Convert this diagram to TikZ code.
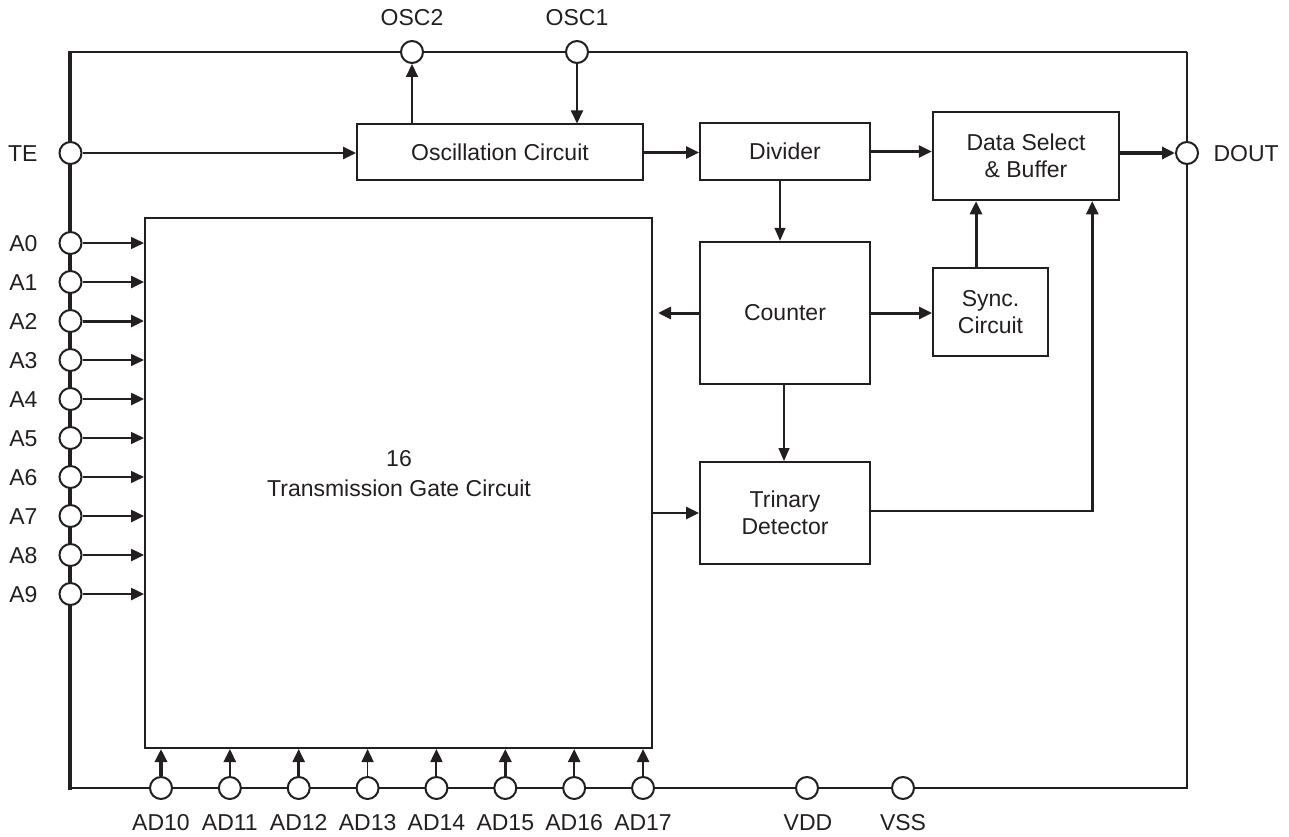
\documentclass[tikz,border=0pt]{standalone}
\usepackage{fontspec}
\setmainfont{Liberation Sans}
\usetikzlibrary{arrows.meta,calc}
\definecolor{ink}{RGB}{35,31,32}
\begin{document}
\begin{tikzpicture}[x=1pt,y=-1pt,
  every node/.style={font=\fontsize{23}{26.5}\selectfont, text=ink},
  blk/.style={draw=ink, line width=2pt, inner sep=0pt, align=center},
  pinc/.style={circle, draw=ink, fill=white, line width=2pt, minimum size=22pt, inner sep=0pt},
  arr/.style={draw=ink, -{Triangle[length=13pt,width=12pt]}, line width=2.5pt},
  tarr/.style={draw=ink, -{Triangle[length=13pt,width=11pt]}, line width=1.6pt},
]
\useasboundingbox (0,0) rectangle (1289,837);

% frame
\draw[ink, line width=2pt] (70,52) -- (1187,52);
\draw[ink, line width=1.6pt] (1187,52) -- (1187,788) -- (70,788);
\draw[ink, line width=4pt] (70,51) -- (70,789.5);

% blocks
\node[blk, minimum width=286pt, minimum height=56pt] (osc) at (500,152.5) {Oscillation Circuit};
\node[blk, minimum width=170pt, minimum height=57pt] (div) at (785,151.5) {Divider};
\node[blk, line width=2.5pt, minimum width=186pt, minimum height=88pt] (dsb) at (1026,156) {Data Select\\\& Buffer};
\node[blk, line width=2.5pt, minimum width=170pt, minimum height=142pt] (counter) at (785,313) {Counter};
\node[blk, minimum width=115pt, minimum height=88pt] (sync) at (990.5,312) {Sync.\\Circuit};
\node[blk, minimum width=170pt, minimum height=102pt] (trin) at (785,513) {Trinary\\Detector};
\node[blk, minimum width=507pt, minimum height=530pt] (tgc) at (398.5,483) {};
\node[align=center, font=\fontsize{23}{30}\selectfont] (tgctext) at (399,474) {16\\Transmission Gate Circuit};

% pins
\node[pinc] (te) at (70.5,153) {};
\node[anchor=base east] (lte) at (41,161) {TE};
\node[pinc] (osctwo) at (412,52) {};
\node[anchor=base] (losctwo) at (412,26) {OSC2};
\node[pinc] (oscone) at (577,52) {};
\node[anchor=base] (loscone) at (577,26) {OSC1};
\node[pinc] (dout) at (1187,153) {};
\node[anchor=base west] (ldout) at (1210,161) {DOUT};
\node[pinc] (vdd) at (807,788) {};
\node[anchor=base] (lvdd) at (808,830) {VDD};
\node[pinc] (vss) at (903,788) {};
\node[anchor=base] (lvss) at (903,830) {VSS};

\foreach \i/\w in {0/1.6,1/2.5,2/3,3/1.6,4/2.5,5/1.6,6/1.6,7/2.5,8/2.5,9/2.5} {
  \node[pinc] (a\i) at (70.5,243+39*\i) {};
  \node[anchor=base east] (la\i) at (41,251+39*\i) {A\i};
  \draw[arr, line width=\w pt] (a\i.east) -- (a\i -| tgc.west);
}
\foreach \i/\w in {0/3.5,1/2.5,2/2.5,3/1.6,4/2,5/3.5,6/2.5,7/2.5} {
  \pgfmathtruncatemacro{\n}{10+\i}
  \node[pinc] (ad\n) at (161+68.86*\i,788) {};
  \node[anchor=base] (lad\n) at (161+68.86*\i,830) {AD\n};
  \draw[arr, line width=\w pt] (ad\n.north) -- (ad\n |- tgc.south);
}

% connectors
\draw[arr] (te.east) -- (te -| osc.west);
\draw[arr, line width=2pt] (osc.north -| osctwo) -- (osctwo.south);
\draw[arr, line width=2pt] (oscone.south) -- (oscone |- osc.north);
\draw[arr] (osc.east) -- (osc.east -| div.west);
\draw[arr] (div.east) -- (div.east -| dsb.west);
\draw[arr, line width=4pt] (dout -| dsb.east) -- (dout.west);
\draw[tarr] ([xshift=-5pt]div.south) -- ([xshift=-5pt]div.south |- counter.north);
\draw[arr, line width=3pt] (counter.west) -- ([xshift=5pt]counter.west -| tgc.east);
\draw[arr, line width=3pt] (counter.east) -- (counter.east -| sync.west);
\draw[arr, line width=3pt] ([xshift=-14.5pt]sync.north) -- ([xshift=-14.5pt]sync.north |- dsb.south);
\draw[tarr] ([xshift=-1pt]counter.south) -- ([xshift=-1pt]counter.south |- trin.north);
\draw[arr] (tgc.east |- trin.west) -- (trin.west);
\draw[arr] ([yshift=2pt]trin.east) -| ($(dsb.south east)+(-28,0)$);
\end{tikzpicture}
\end{document}
